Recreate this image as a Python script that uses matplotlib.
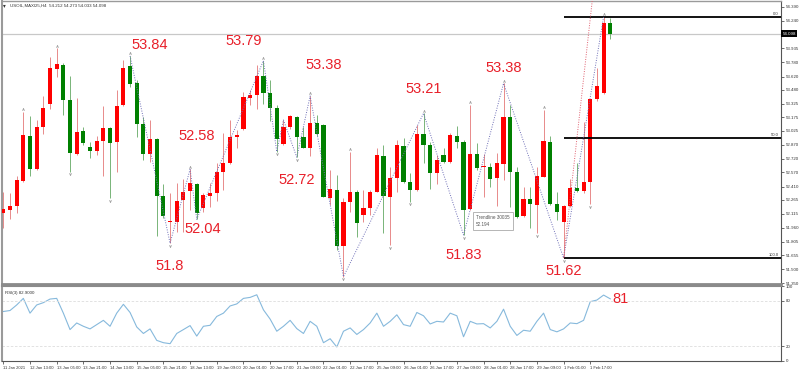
import numpy as np
import matplotlib.pyplot as plt
from matplotlib.transforms import blended_transform_factory

plt.rcParams['font.family'] = ['Liberation Sans', 'DejaVu Sans']

# H4 candles, USOIL 11 Jan - 2 Feb 2021
opens = [52.125, 52.155, 52.199, 52.474, 52.970, 52.610, 53.065, 53.322, 53.708, 53.755,
         53.366, 52.771, 53.021, 52.852, 52.808, 52.915, 53.054, 52.900, 53.311, 53.741,
         53.550, 53.102, 52.771, 52.937, 52.313, 52.022, 52.026, 52.265, 52.364, 52.437,
         52.173, 52.309, 52.346, 52.573, 52.669, 52.962, 53.043, 53.392, 53.421, 53.630,
         53.440, 53.274, 52.882, 53.065, 53.182, 52.962, 52.841, 53.109, 53.091, 52.291,
         52.375, 51.758, 52.246, 52.357, 52.096, 52.173, 52.357, 52.753, 52.302, 52.503,
         52.860, 52.467, 52.375, 52.988, 52.871, 52.566, 52.760, 52.687, 52.973, 52.900,
         52.166, 52.768, 52.628, 52.632, 52.503, 52.661, 53.182, 52.577, 52.088, 52.272,
         52.209, 52.522, 52.907, 52.220, 52.026, 52.198, 52.400, 52.367, 52.466, 53.373,
         53.439, 54.212]
highs = [52.357, 52.338, 52.529, 53.238, 53.190, 53.146, 53.410, 53.843, 53.935, 53.770,
         53.630, 53.384, 53.072, 52.907, 52.970, 53.300, 53.072, 53.476, 53.807, 53.851,
         53.586, 53.182, 53.146, 52.944, 52.437, 52.346, 52.448, 52.496, 52.603, 52.448,
         52.338, 52.448, 52.669, 53.006, 53.146, 53.036, 53.458, 53.476, 53.752, 53.799,
         53.586, 53.311, 53.146, 53.201, 53.190, 53.072, 53.410, 53.201, 53.098, 52.595,
         52.540, 52.283, 52.797, 52.375, 52.375, 52.375, 52.834, 52.871, 52.632, 52.926,
         52.944, 52.558, 53.091, 53.219, 52.907, 52.760, 52.834, 52.999, 53.083, 52.926,
         53.311, 52.889, 52.771, 52.669, 52.778, 53.549, 53.311, 52.632, 52.411, 52.411,
         52.632, 53.256, 52.969, 52.356, 52.209, 52.492, 52.668, 53.127, 53.380, 53.715,
         54.280, 54.273]
lows = [51.953, 52.052, 52.125, 52.467, 52.529, 52.600, 52.992, 53.263, 53.623, 53.201,
        52.577, 52.760, 52.871, 52.724, 52.760, 52.529, 52.283, 52.577, 53.304, 53.513,
        52.962, 52.705, 52.687, 51.868, 52.063, 51.788, 51.916, 51.916, 52.155, 52.052,
        52.136, 52.191, 52.257, 52.375, 52.661, 52.834, 53.036, 53.311, 53.263, 53.322,
        53.138, 52.797, 52.871, 53.043, 52.735, 52.834, 52.749, 52.970, 52.294, 52.210,
        51.714, 51.420, 52.136, 51.861, 52.026, 52.100, 52.349, 51.898, 51.769, 52.357,
        52.448, 52.246, 52.368, 52.669, 52.382, 52.441, 52.676, 52.676, 52.834, 51.879,
        52.155, 52.595, 52.302, 52.412, 52.198, 52.485, 52.191, 52.063, 52.081, 51.952,
        51.897, 52.514, 52.209, 52.044, 51.625, 52.191, 52.356, 52.338, 52.220, 53.358,
        53.432, 54.033]
closes = [52.162, 52.199, 52.485, 52.977, 52.610, 53.072, 53.278, 53.715, 53.763, 53.366,
          52.779, 53.017, 52.896, 52.808, 52.918, 53.054, 52.896, 53.304, 53.715, 53.542,
          53.098, 52.771, 52.937, 52.313, 52.089, 52.037, 52.257, 52.357, 52.456, 52.118,
          52.320, 52.338, 52.577, 52.669, 52.955, 52.977, 53.403, 53.417, 53.630, 53.440,
          53.274, 52.933, 53.065, 53.190, 52.962, 52.841, 53.109, 52.992, 52.302, 52.382,
          51.758, 52.246, 52.357, 52.008, 52.173, 52.357, 52.760, 52.309, 52.503, 52.871,
          52.467, 52.375, 52.988, 52.871, 52.566, 52.705, 52.687, 52.981, 52.904, 52.155,
          52.768, 52.621, 52.639, 52.496, 52.668, 53.175, 52.577, 52.074, 52.272, 52.220,
          52.529, 52.914, 52.220, 52.129, 52.198, 52.393, 52.367, 52.466, 53.373, 53.524,
          54.210, 54.098]

rsi = [66.0, 67.3, 74.7, 83.5, 63.8, 74.7, 77.8, 82.6, 83.5, 63.8,
       41.9, 50.7, 46.3, 42.8, 48.5, 54.2, 46.3, 63.8, 75.6, 64.7,
       45.4, 36.7, 42.8, 27.5, 24.4, 23.1, 36.7, 41.9, 47.2, 33.2,
       46.3, 47.6, 59.4, 63.8, 73.4, 76.1, 83.5, 84.8, 88.3, 68.2,
       55.9, 39.7, 46.3, 54.2, 43.2, 36.7, 52.9, 46.3, 24.4, 29.7,
       18.7, 39.7, 44.1, 35.4, 41.9, 50.7, 63.8, 46.3, 52.9, 61.6,
       48.5, 46.3, 64.7, 60.3, 49.4, 52.9, 52.0, 63.8, 60.3, 32.3,
       52.9, 49.4, 49.8, 44.1, 52.9, 69.1, 46.3, 34.1, 41.0, 39.7,
       52.9, 63.8, 41.9, 38.9, 42.8, 50.7, 49.8, 54.2, 79.1, 81.3,
       87.9, 82.9]

# zigzag pivots (bar index, 'H' = high / 'L' = low)
zz_idx = [19, 25, 28, 29, 39, 41, 42, 44, 46, 51, 63, 69, 75, 84, 90]
zz_kind = ['H', 'L', 'H', 'L', 'H', 'L', 'H', 'L', 'H', 'L', 'H', 'L', 'H', 'L', 'H']

frac_high = [3, 8, 19, 28, 39, 46, 52, 63, 70, 75, 81, 90]
frac_low = [10, 16, 25, 41, 44, 51, 58, 61, 69, 80, 84, 88]

# red trendline from the last low
tl_x = [84, 88.3]
tl_y = [51.625, 54.46]

# author's annotations (bar index, price, text)
notes = [(22.0, 53.97, '53.84'), (36.0, 54.01, '53.79'), (48.0, 53.75, '53.38'),
         (29.0, 52.97, '52.58'), (44.0, 52.485, '52.72'), (29.9, 51.945, '52.04'),
         (24.9, 51.538, '51.8'), (63.0, 53.484, '53.21'), (69.0, 51.655, '51.83'),
         (75.0, 53.715, '53.38'), (84.0, 51.486, '51.62')]
rsi_note = (91.35, 82.2, '81')

price_ticks = [54.390, 54.240, 53.935, 53.780, 53.620, 53.480, 53.325, 53.175, 53.025,
               52.870, 52.720, 52.570, 52.410, 52.265, 52.115, 51.960, 51.805, 51.655,
               51.500, 51.350]
last_price = 54.098

date_labels = ['11 Jan 2021', '12 Jan 13:00', '13 Jan 05:00', '13 Jan 21:00', '14 Jan 13:00',
               '15 Jan 05:00', '15 Jan 21:00', '18 Jan 13:00', '19 Jan 09:00', '20 Jan 01:00',
               '20 Jan 17:00', '21 Jan 09:00', '22 Jan 01:00', '22 Jan 17:00', '25 Jan 09:00',
               '26 Jan 01:00', '26 Jan 17:00', '27 Jan 09:00', '28 Jan 01:00', '28 Jan 17:00',
               '29 Jan 09:00', '1 Feb 01:00', '1 Feb 17:00']

o = np.array(opens); h = np.array(highs); l = np.array(lows); c = np.array(closes)
x = np.arange(len(o))
up = c >= o

fig = plt.figure(figsize=(8, 3.71), dpi=100)
ax = fig.add_axes([2/800, 1-284/371, 779/800, 283/371])
ax2 = fig.add_axes([2/800, 1-361/371, 779/800, 75/371], sharex=ax)

# candles
ax.vlines(x[up], l[up], h[up], color='#e88a8a', lw=0.7, zorder=2)
ax.vlines(x[~up], l[~up], h[~up], color='#78b478', lw=0.7, zorder=2)
body_lo = np.minimum(o, c)
body_h = np.maximum(np.abs(c - o), 0.01)
ax.bar(x[up], body_h[up], bottom=body_lo[up], width=0.62, color='#ff0000', zorder=3)
ax.bar(x[~up], body_h[~up], bottom=body_lo[~up], width=0.62, color='#008000', zorder=3)

# zigzag
zz_y = [h[i] if k == 'H' else l[i] for i, k in zip(zz_idx, zz_kind)]
ax.plot(zz_idx, zz_y, color='#7070b8', lw=0.7, ls=(0, (1, 1.5)), zorder=4)
ax.plot(tl_x, tl_y, color='#e06070', lw=0.7, ls=(0, (1, 1.5)), zorder=4)

# fractal marks
ax.scatter(frac_high, h[frac_high] + 0.03, marker=r'$\wedge$', s=3, color='#999999', lw=0.2, zorder=4)
ax.scatter(frac_low, l[frac_low] - 0.03, marker=r'$\vee$', s=3, color='#999999', lw=0.2, zorder=4)

xmax = 116.6
ax.set_xlim(-0.2, xmax)
ax.set_ylim(51.339, 54.456)

# fibonacci
fib_hi = h[90]
fib_lo = l[84]
for lvl, name in [(0.0, '0.0'), (50.0, '50.0'), (100.0, '100.0')]:
    yv = fib_hi - (fib_hi - fib_lo) * lvl / 100
    ax.hlines(yv, 84, xmax, color='black', lw=1.3, zorder=3)
    ax.text(xmax - 0.3, yv + 0.01, name, ha='right', va='bottom', fontsize=3, color='#333333')

# last price line
ax.axhline(last_price, color='#c8c8c8', lw=0.9, zorder=1)
trans = blended_transform_factory(ax.transAxes, ax.transData)
ax.text(1.002, last_price, '%.3f' % last_price, transform=trans, fontsize=3.2, color='white',
        ha='left', va='center', bbox=dict(boxstyle='square,pad=0.25', fc='black', ec='none'))

for xi, yi, t in notes:
    ax.text(xi, yi, t, color='#e8202a', fontsize=10.5, ha='center', va='center', zorder=5)

ax.text(70.9, 52.10, 'Trendline 30035\n52.194', fontsize=3.3, color='#555555', va='top',
        ha='left', linespacing=1.5, zorder=6,
        bbox=dict(boxstyle='square,pad=0.6', fc='white', ec='#aaaaaa', lw=0.6))

ax.set_yticks(price_ticks)
ax.set_yticklabels(['%.3f' % p for p in price_ticks])
ax.yaxis.tick_right()
ax.tick_params(axis='y', labelsize=3.2, length=2, width=0.5, pad=1.5, colors='#333333')
ax.tick_params(axis='x', bottom=False, labelbottom=False)
for s in ['left', 'top']:
    ax.spines[s].set_color('#9a9a9a')
ax.spines['left'].set_linewidth(1.5)
ax.spines['top'].set_linewidth(1.0)
ax.spines['bottom'].set_color('#8a8a8a')
ax.spines['bottom'].set_linewidth(2.0)
ax.spines['right'].set_color('#555555')
ax.spines['right'].set_linewidth(0.8)

fig.text(0.012, 0.986, 'USOIL,MAXI25,H4  54.212 54.273 54.033 54.098', fontsize=3.2,
         color='#333333', va='center')
fig.text(0.004, 0.986, '\u25be', fontsize=4, color='#333333', va='center')

# RSI panel
ax2.plot(x, rsi, color='#86b9dc', lw=0.8)
ax2.axhline(80, color='#dddddd', lw=0.6, ls=(0, (3, 2)))
ax2.axhline(20, color='#dddddd', lw=0.6, ls=(0, (3, 2)))
ax2.set_ylim(0, 100)
ax2.text(rsi_note[0], rsi_note[1], rsi_note[2], color='#e8202a', fontsize=10.5,
         ha='left', va='center')
ax2.text(0.004, 0.93, 'RSI(3) 82.9000', transform=ax2.transAxes, fontsize=3.2,
         color='#333333', va='top')
ax2.set_yticks([100, 80, 20, 0])
ax2.yaxis.tick_right()
ax2.tick_params(axis='y', labelsize=3.2, length=2, width=0.5, pad=1.5, colors='#333333')
ax2.set_xticks(np.arange(0, 4 * len(date_labels), 4))
ax2.set_xticklabels(date_labels, ha='left')
ax2.tick_params(axis='x', labelsize=3.0, length=2, width=0.5, pad=1.5, colors='#333333')
ax2.spines['top'].set_color('#8a8a8a')
ax2.spines['top'].set_linewidth(1.5)
ax2.spines['left'].set_color('#9a9a9a')
ax2.spines['left'].set_linewidth(1.5)
ax2.spines['bottom'].set_color('#555555')
ax2.spines['right'].set_color('#555555')
ax2.spines['right'].set_linewidth(0.8)

fig.savefig('out.png', dpi=100)
